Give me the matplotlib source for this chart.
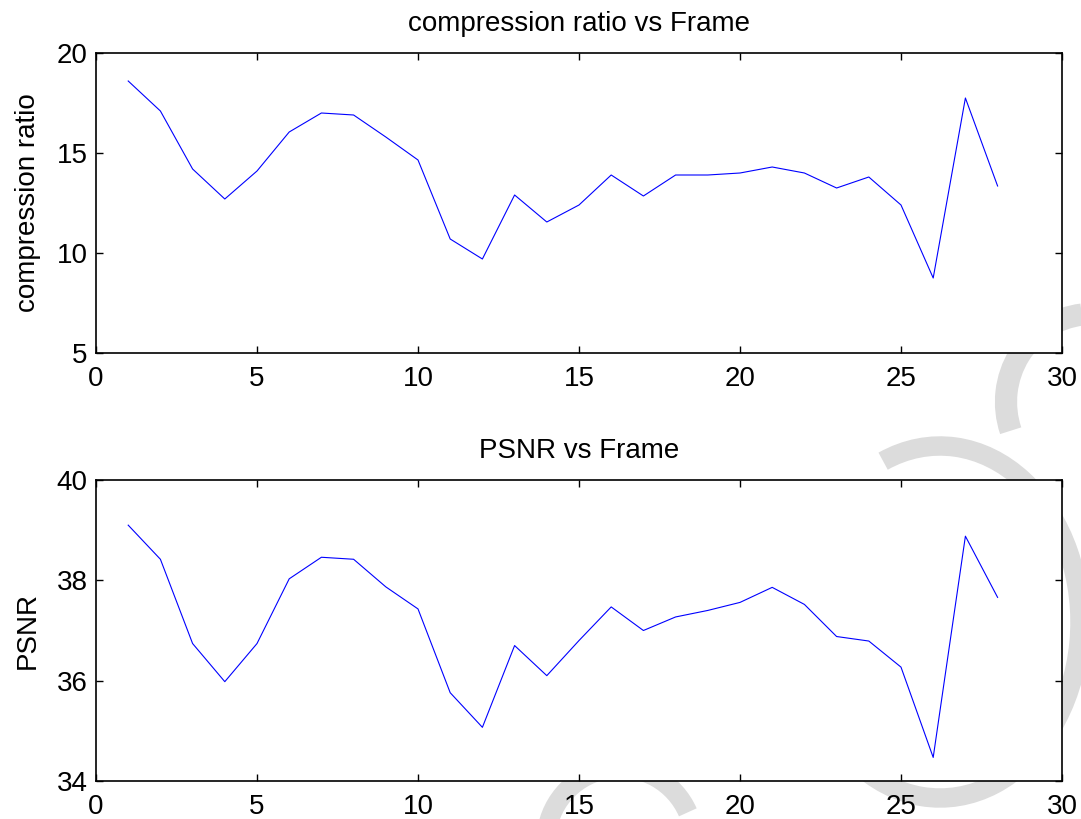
import matplotlib
matplotlib.use("Agg")
import matplotlib.pyplot as plt
from matplotlib.patches import Arc

frames = list(range(1, 29))
comp_ratio = [18.6, 17.1, 14.2, 12.7, 14.1, 16.05, 17.0, 16.9, 15.8, 14.65,
              10.7, 9.7, 12.9, 11.55, 12.4, 13.9, 12.85, 13.9, 13.9, 14.0,
              14.3, 14.0, 13.25, 13.8, 12.4, 8.75, 17.75, 13.35]
psnr = [39.1, 38.42, 36.74, 35.98, 36.74, 38.03, 38.46, 38.42, 37.87, 37.43,
        35.76, 35.07, 36.7, 36.1, 36.8, 37.47, 37.0, 37.27, 37.4, 37.56,
        37.86, 37.52, 36.88, 36.79, 36.27, 34.47, 38.88, 37.66]

x_ticks = [0, 5, 10, 15, 20, 25, 30]
cr_ticks = [5, 10, 15, 20]
psnr_ticks = [34, 36, 38, 40]

plt.rcParams['font.family'] = ['Liberation Sans', 'DejaVu Sans']
plt.rcParams['font.size'] = 20

W, H = 1081, 819
fig = plt.figure(figsize=(W / 100, H / 100), dpi=100)

# faint watermark strokes behind the axes (page background of the source)
wm = '#dcdcdc'
def wm_arc(cx, cy, rx, ry, t1, t2, lw):
    a = Arc((cx / W, 1 - cy / H), 2 * rx / W, 2 * ry / H, theta1=t1, theta2=t2,
            transform=fig.transFigure, color=wm, lw=lw, zorder=-5)
    fig.add_artist(a)

wm_arc(940, 622, 140, 176, -115, 105, 14)
wm_arc(1092, 402, 86, 88, 95, 205, 16)
wm_arc(620, 842, 74, 74, 30, 170, 14)


def setup(ax, ticks, ylim, title, ylabel):
    ax.set_xlim(0, 30)
    ax.set_ylim(*ylim)
    ax.set_xticks(x_ticks)
    ax.set_yticks(ticks)
    ax.set_title(title, fontsize=20, pad=16)
    ax.set_ylabel(ylabel, fontsize=20)
    ax.yaxis.set_label_coords(-0.057, 0.5)
    ax.tick_params(direction='in', top=True, right=True, length=5, width=1,
                   labelsize=20)
    ax.tick_params(axis='x', pad=9)
    ax.tick_params(axis='y', pad=6)
    for s in ax.spines.values():
        s.set_linewidth(1.2)
    ax.set_facecolor('white')


ax1 = fig.add_axes([96 / W, 1 - 353 / H, 966 / W, 300 / H])
ax1.plot(frames, comp_ratio, color='#0000ff', lw=0.8)
setup(ax1, cr_ticks, (5, 20), 'compression ratio vs Frame', 'compression ratio')

ax2 = fig.add_axes([96 / W, 1 - 781 / H, 966 / W, 301 / H])
ax2.plot(frames, psnr, color='#0000ff', lw=0.8)
setup(ax2, psnr_ticks, (34, 40), 'PSNR vs Frame', 'PSNR')

fig.savefig('out.png', dpi=100)
